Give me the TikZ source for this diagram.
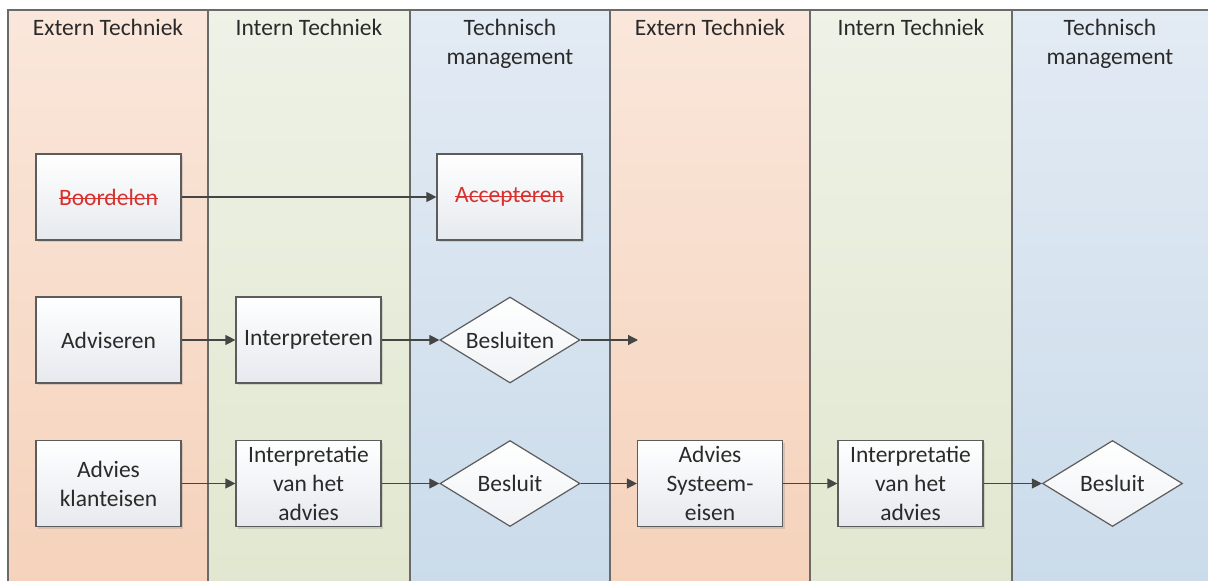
\documentclass[tikz,border=0pt]{standalone}
\usepackage{fontspec}
\setmainfont{Carlito}
\usepackage{tikz}
\usetikzlibrary{arrows.meta}
\usetikzlibrary{shapes}
\usetikzlibrary{shadows}
\definecolor{ext1}{HTML}{FAE7DB}
\definecolor{ext2}{HTML}{F5D2BB}
\definecolor{int1}{HTML}{EEF2E7}
\definecolor{int2}{HTML}{E1E7CF}
\definecolor{man1}{HTML}{E3EBF4}
\definecolor{man2}{HTML}{CADBEA}
\definecolor{lanegrey}{HTML}{6A6A6A}
\definecolor{boxgrey}{HTML}{5C5C5C}
\definecolor{boxbot}{HTML}{E6E9EE}
\definecolor{arrgrey}{HTML}{454545}
\definecolor{txt}{HTML}{2A2A2A}
\definecolor{strike}{HTML}{D8312E}
\tikzstyle{lane}=[draw=lanegrey, line width=1.4pt]
\tikzstyle{head}=[anchor=north, inner sep=0pt, align=center]
\tikzstyle{act}=[shape=rectangle, draw=boxgrey, line width=1.2pt, top color=white, bottom color=boxbot, minimum width=145pt, minimum height=86pt, inner sep=0pt, align=center, drop shadow={shadow xshift=2pt, shadow yshift=-2pt, opacity=0.25}]
\tikzstyle{dec}=[shape=diamond, aspect=1.63, draw=boxgrey, line width=1.2pt, top color=white, bottom color=boxbot!60, minimum width=140pt, minimum height=86pt, inner sep=0pt]
\tikzstyle{tran}=[draw=arrgrey, -{Triangle[length=10pt,width=10pt]}, line width=1.2pt]
\newcommand{\struck}[1]{\textcolor{strike}{\setbox0\hbox{#1}\rlap{\rule[0.24em]{\wd0}{1.2pt}}\box0}}

\begin{document}
\begin{tikzpicture}[x = 1pt, y = -1pt, every node/.style={font=\fontsize{23.5}{29}\selectfont, text=txt}]
\path[use as bounding box, clip] (0,0) rectangle (1208,581);
\fill[white] (0,0) rectangle (1208,581);

\foreach \xa/\xb/\lc in {8/208/ext, 208/410/int, 410/610/man, 610/810/ext, 810/1012/int, 1012/1215/man}
  \shade[top color=\lc1, bottom color=\lc2] (\xa,10) rectangle (\xb,590);
\draw[lane] (1215,10) -- (8,10) -- (8,590);
\foreach \xa in {208, 410, 610, 810, 1012}
  \draw[lane] (\xa,10) -- (\xa,590);

\node[head] (h1) at (108,19) {Extern Techniek};
\node[head] (h2) at (309,19) {Intern Techniek};
\node[head] (h3) at (510,19) {Technisch\\management};
\node[head] (h4) at (710,19) {Extern Techniek};
\node[head] (h5) at (911,19) {Intern Techniek};
\node[head] (h6) at (1110,19) {Technisch\\management};

\node[act] (beo) at (108.5,197) {\struck{Boordelen}};
\node[act] (acc) at (509.5,197) {\struck{Accepteren}};

\node[act] (adv) at (108.5,340) {Adviseren};
\node[act] (int) at (308.5,340) {Interpreteren};
\node[dec] (bsl) at (510,340) {Besluiten};
\coordinate (open) at (638,340);

\node[act] (klant) at (108.5,483.5) {Advies\\klanteisen};
\node[act] (ia1) at (308.5,483.5) {Interpretatie\\van het\\advies};
\node[dec] (bs1) at (510,483.5) {Besluit};
\node[act] (sys) at (710,483.5) {Advies\\Systeem-\\eisen};
\node[act] (ia2) at (910.5,483.5) {Interpretatie\\van het\\advies};
\node[dec] (bs2) at (1112.5,483.5) {Besluit};

\draw[tran] (beo) -- (acc);
\draw[tran] (adv) -- (int);
\draw[tran] (int) -- (bsl);
\draw[tran] (bsl) -- (open);
\draw[tran] (klant) -- (ia1);
\draw[tran] (ia1) -- (bs1);
\draw[tran] (bs1) -- (sys);
\draw[tran] (sys) -- (ia2);
\draw[tran] (ia2) -- (bs2);
\end{tikzpicture}
\end{document}
